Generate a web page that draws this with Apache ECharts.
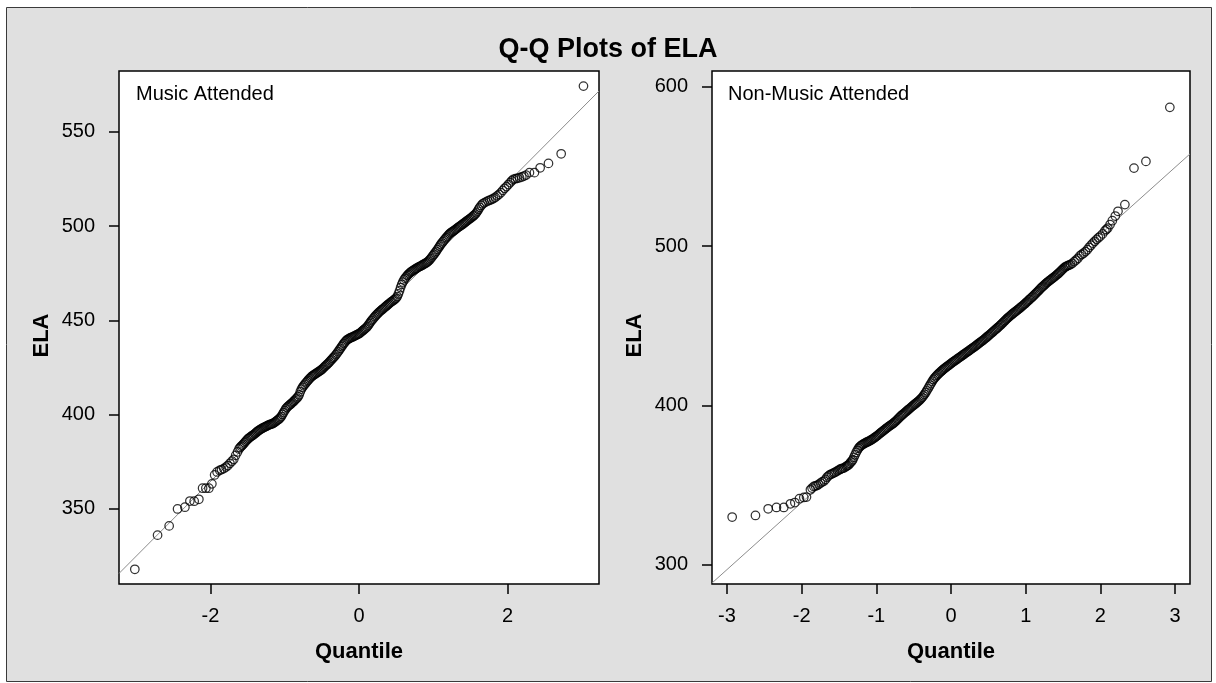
<!DOCTYPE html>
<html>
<head>
<meta charset="utf-8">
<script src="https://cdn.jsdelivr.net/npm/echarts@6/dist/echarts.min.js"></script>
<style>
html,body{margin:0;padding:0;background:#fff;}
#chart{width:1216px;height:683px;}
</style>
</head>
<body>
<div id="chart"></div>
<script>
// ---- Data ----
const chartTitle = 'Q-Q Plots of ELA';
const panelNames = ['Music Attended', 'Non-Music Attended'];
const xAxisName = 'Quantile';
const yAxisName = 'ELA';

// [normal quantile, ELA score]
const musicPoints = [
[-3.017,318.0],[-2.711,336.1],[-2.555,341.0],[-2.442,350.0],[-2.343,350.9],[-2.276,354.2],[-2.218,354.1],[-2.155,355.1],
[-2.105,361.0],[-2.061,361.0],[-2.020,361.0],[-1.980,363.3],[-1.943,368.0],[-1.910,369.6],[-1.875,370.5],[-1.850,370.9],
[-1.820,371.4],[-1.790,372.2],[-1.765,373.0],[-1.737,374.2],[-1.710,375.3],[-1.685,376.3],[-1.66,378.4],[-1.635,380.2],
[-1.615,381.8],[-1.60,382.6],[-1.585,383.2],[-1.57,383.8],[-1.555,384.4],[-1.54,385.1],[-1.525,385.8],[-1.51,386.5],
[-1.495,387.1],[-1.48,387.6],[-1.465,388.1],[-1.45,388.5],[-1.435,388.9],[-1.42,389.3],[-1.405,389.8],[-1.39,390.3],
[-1.375,390.8],[-1.36,391.3],[-1.345,391.7],[-1.33,392.1],[-1.315,392.5],[-1.30,392.8],[-1.285,393.1],[-1.27,393.4],
[-1.255,393.7],[-1.24,394.0],[-1.225,394.3],[-1.21,394.6],[-1.195,394.8],[-1.18,395.0],[-1.165,395.2],[-1.15,395.5],
[-1.135,395.9],[-1.12,396.3],[-1.105,396.8],[-1.09,397.2],[-1.075,397.7],[-1.06,398.3],[-1.045,399.0],[-1.03,400.1],
[-1.015,401.1],[-1.00,402.1],[-0.985,403.1],[-0.97,403.8],[-0.955,404.4],[-0.94,404.9],[-0.925,405.4],[-0.91,405.9],
[-0.895,406.5],[-0.88,407.0],[-0.865,407.6],[-0.85,408.2],[-0.835,408.8],[-0.82,409.5],[-0.805,410.5],[-0.79,412.1],
[-0.775,413.5],[-0.76,414.5],[-0.745,415.3],[-0.73,416.1],[-0.715,416.8],[-0.70,417.5],[-0.685,418.2],[-0.67,418.9],
[-0.655,419.5],[-0.64,420.1],[-0.625,420.6],[-0.61,421.0],[-0.595,421.4],[-0.58,421.8],[-0.565,422.2],[-0.55,422.6],
[-0.535,423.0],[-0.52,423.4],[-0.505,423.8],[-0.49,424.3],[-0.475,424.9],[-0.46,425.5],[-0.445,426.1],[-0.43,426.6],
[-0.415,427.2],[-0.40,427.8],[-0.385,428.5],[-0.37,429.1],[-0.355,429.8],[-0.34,430.4],[-0.325,431.0],[-0.31,431.8],
[-0.295,432.6],[-0.28,433.4],[-0.265,434.3],[-0.25,435.1],[-0.235,436.0],[-0.22,436.8],[-0.205,437.7],[-0.19,438.4],
[-0.175,439.1],[-0.16,439.7],[-0.145,440.1],[-0.13,440.4],[-0.115,440.7],[-0.10,441.0],[-0.085,441.2],[-0.07,441.5],
[-0.055,441.8],[-0.04,442.1],[-0.025,442.4],[-0.01,442.7],[0.005,443.0],[0.02,443.5],[0.035,444.0],[0.05,444.5],
[0.065,445.0],[0.08,445.5],[0.095,446.0],[0.11,446.6],[0.125,447.4],[0.14,448.2],[0.155,449.1],[0.17,449.9],
[0.185,450.6],[0.20,451.3],[0.215,452.0],[0.23,452.7],[0.245,453.3],[0.26,453.9],[0.275,454.5],[0.29,455.0],
[0.305,455.5],[0.32,456.0],[0.335,456.5],[0.35,457.0],[0.365,457.5],[0.38,458.0],[0.395,458.5],[0.41,459.0],
[0.425,459.5],[0.44,459.9],[0.455,460.3],[0.47,460.8],[0.485,461.3],[0.50,461.8],[0.515,462.6],[0.53,464.0],
[0.545,465.6],[0.56,467.4],[0.575,469.0],[0.59,470.3],[0.605,471.4],[0.62,472.3],[0.635,473.0],[0.65,473.8],
[0.665,474.4],[0.68,475.0],[0.695,475.5],[0.71,475.9],[0.725,476.3],[0.74,476.7],[0.755,477.1],[0.77,477.5],
[0.785,477.8],[0.80,478.2],[0.815,478.5],[0.83,478.8],[0.845,479.1],[0.86,479.5],[0.875,479.8],[0.89,480.1],
[0.905,480.5],[0.92,480.9],[0.935,481.4],[0.95,482.0],[0.965,482.7],[0.98,483.5],[0.995,484.3],[1.01,485.0],
[1.025,485.8],[1.04,486.6],[1.055,487.5],[1.07,488.4],[1.085,489.3],[1.10,490.2],[1.115,491.0],[1.13,491.7],
[1.145,492.5],[1.16,493.2],[1.175,493.9],[1.19,494.6],[1.205,495.3],[1.22,495.9],[1.235,496.4],[1.25,496.8],
[1.265,497.2],[1.28,497.6],[1.295,498.1],[1.31,498.5],[1.325,499.0],[1.34,499.4],[1.355,499.8],[1.37,500.2],
[1.385,500.7],[1.40,501.1],[1.415,501.6],[1.43,502.0],[1.445,502.5],[1.46,502.9],[1.475,503.4],[1.49,503.8],
[1.505,504.2],[1.52,504.7],[1.535,505.2],[1.55,505.7],[1.565,506.3],[1.58,507.0],[1.595,507.9],[1.61,508.9],
[1.625,509.9],[1.645,510.9],[1.665,511.8],[1.685,512.3],[1.71,512.8],[1.735,513.3],[1.76,513.7],[1.785,514.1],
[1.81,514.6],[1.835,515.2],[1.86,516.0],[1.885,516.8],[1.91,517.7],[1.935,518.9],[1.96,520.0],
[1.985,520.9],[2.010,522.0],[2.034,523.0],[2.056,524.0],[2.078,524.8],[2.105,525.1],[2.132,525.3],[2.160,525.6],
[2.191,526.0],[2.220,526.5],[2.249,527.0],[2.294,528.3],[2.361,528.3],[2.438,530.9],[2.550,533.2],[2.721,538.3],
[3.021,574.2]
];

const nonMusicPoints = [
[-2.930,330.0],[-2.618,331.0],[-2.448,335.2],[-2.337,336.0],[-2.239,336.0],[-2.150,338.3],[-2.091,339.1],[-2.029,341.5],
[-1.971,342.3],[-1.935,342.5],[-1.882,347.1],[-1.860,348.2],[-1.837,349.2],[-1.815,349.5],[-1.793,349.8],[-1.770,350.5],
[-1.748,351.3],[-1.725,352.0],[-1.700,352.6],[-1.680,353.6],[-1.660,355.0],[-1.640,355.8],[-1.620,356.6],[-1.600,357.0],
[-1.580,357.4],[-1.560,357.9],[-1.540,358.4],[-1.520,359.0],[-1.500,359.5],[-1.485,360.0],[-1.470,360.2],[-1.455,360.5],
[-1.435,360.7],[-1.418,361.3],[-1.400,361.8],[-1.385,362.3],[-1.369,362.8],[-1.355,363.6],[-1.340,364.5],[-1.325,365.2],
[-1.315,366.0],[-1.30,367.5],[-1.285,369.0],[-1.27,370.5],[-1.255,371.8],[-1.24,373.0],[-1.225,373.9],[-1.21,374.6],
[-1.195,375.1],[-1.18,375.6],[-1.165,376.0],[-1.15,376.4],[-1.135,376.8],[-1.12,377.1],[-1.105,377.4],[-1.09,377.8],
[-1.075,378.2],[-1.06,378.6],[-1.045,379.1],[-1.03,379.6],[-1.015,380.1],[-1.00,380.6],[-0.985,381.1],[-0.97,381.7],
[-0.955,382.3],[-0.94,382.9],[-0.925,383.4],[-0.91,384.0],[-0.895,384.5],[-0.88,385.1],[-0.865,385.7],[-0.85,386.2],
[-0.835,386.7],[-0.82,387.2],[-0.805,387.7],[-0.79,388.2],[-0.775,388.7],[-0.76,389.3],[-0.745,389.9],[-0.73,390.6],
[-0.715,391.3],[-0.70,392.0],[-0.685,392.7],[-0.67,393.4],[-0.655,394.0],[-0.64,394.6],[-0.625,395.2],[-0.61,395.8],
[-0.595,396.4],[-0.58,397.0],[-0.565,397.6],[-0.55,398.2],[-0.535,398.8],[-0.52,399.4],[-0.505,400.0],[-0.49,400.6],
[-0.475,401.1],[-0.46,401.7],[-0.445,402.3],[-0.43,402.9],[-0.415,403.6],[-0.40,404.3],[-0.385,405.1],[-0.37,406.0],
[-0.355,407.0],[-0.34,408.0],[-0.325,409.2],[-0.31,410.4],[-0.295,411.6],[-0.28,412.8],[-0.265,414.0],[-0.25,415.2],
[-0.235,416.3],[-0.22,417.2],[-0.205,418.0],[-0.19,418.8],[-0.175,419.5],[-0.16,420.2],[-0.145,420.9],[-0.13,421.5],
[-0.115,422.1],[-0.10,422.7],[-0.085,423.3],[-0.07,423.8],[-0.055,424.4],[-0.04,424.9],[-0.025,425.4],[-0.01,425.9],
[0.005,426.5],[0.02,427.0],[0.035,427.5],[0.05,428.0],[0.065,428.5],[0.08,429.0],[0.095,429.5],[0.11,430.0],
[0.125,430.5],[0.14,431.0],[0.155,431.5],[0.17,432.0],[0.185,432.5],[0.20,433.0],[0.215,433.5],[0.23,434.0],
[0.245,434.5],[0.26,435.0],[0.275,435.5],[0.29,436.0],[0.305,436.5],[0.32,437.0],[0.335,437.5],[0.35,438.1],
[0.365,438.7],[0.38,439.2],[0.395,439.7],[0.41,440.2],[0.425,440.7],[0.44,441.3],[0.455,441.9],[0.47,442.5],
[0.485,443.1],[0.50,443.7],[0.515,444.3],[0.53,444.9],[0.545,445.5],[0.56,446.1],[0.575,446.8],[0.59,447.4],
[0.605,448.0],[0.62,448.6],[0.635,449.2],[0.65,449.9],[0.665,450.5],[0.68,451.2],[0.695,451.9],[0.71,452.6],
[0.725,453.3],[0.74,454.0],[0.755,454.7],[0.77,455.3],[0.785,455.9],[0.80,456.5],[0.815,457.1],[0.83,457.7],
[0.845,458.2],[0.86,458.8],[0.875,459.3],[0.89,459.9],[0.905,460.4],[0.92,461.0],[0.935,461.6],[0.95,462.2],
[0.965,462.8],[0.98,463.4],[0.995,464.0],[1.01,464.7],[1.025,465.3],[1.04,466.0],[1.055,466.6],[1.07,467.3],
[1.085,467.9],[1.10,468.6],[1.115,469.3],[1.13,470.0],[1.145,470.7],[1.16,471.4],[1.175,472.1],[1.19,472.9],
[1.205,473.6],[1.22,474.3],[1.235,474.9],[1.25,475.6],[1.265,476.2],[1.28,476.9],[1.295,477.4],[1.31,478.0],
[1.325,478.5],[1.34,479.1],[1.355,479.6],[1.37,480.2],[1.385,480.7],[1.40,481.3],[1.415,481.9],[1.43,482.5],
[1.445,483.1],[1.46,483.8],[1.475,484.5],[1.49,485.2],[1.505,485.9],[1.52,486.6],[1.535,487.0],[1.55,487.4],
[1.565,487.7],[1.58,488.0],[1.60,488.4],[1.625,489.2],[1.65,490.2],[1.675,491.2],[1.70,492.3],[1.725,493.8],
[1.75,494.7],[1.775,495.5],[1.80,496.5],[1.825,497.7],[1.85,499.2],[1.875,500.5],[1.90,501.8],[1.925,503.0],
[1.95,504.2],[1.975,505.2],[2.00,506.2],[2.03,507.6],[2.06,509.5],[2.08,510.4],[2.10,511.3],[2.13,513.5],
[2.16,515.9],[2.20,518.8],[2.236,521.8],[2.328,526.0],[2.450,548.9],[2.610,553.1],[2.930,587.0]
];

// fitted reference lines: [quantile, ELA] end points
const musicRefLine = [[-3.23, 315.8], [3.23, 571.6]];
const nonMusicRefLine = [[-3.2, 288.6], [3.2, 557.8]];

// axis ranges and ticks
const musicXRange = [-3.23, 3.23];
const musicYRange = [310.2, 582.2];
const nonMusicXRange = [-3.2, 3.2];
const nonMusicYRange = [288, 609.8];
const musicXTicks = [-2, 0, 2];
const musicYTicks = [350, 400, 450, 500, 550];
const nonMusicXTicks = [-3, -2, -1, 0, 1, 2, 3];
const nonMusicYTicks = [300, 400, 500, 600];

// ---- Chart ----
const FONT = '"Liberation Sans", Arial, Helvetica, sans-serif';
const chart = echarts.init(document.getElementById('chart'), null, {renderer: 'canvas'});

function xAxisCfg(idx, range, ticks) {
  return {
    type: 'value', gridIndex: idx, min: range[0], max: range[1],
    axisLine: {show: false, onZero: false},
    splitLine: {show: false},
    axisTick: {show: true, customValues: ticks, length: 10, lineStyle: {color: '#000', width: 1.5}},
    axisLabel: {customValues: ticks, color: '#000', fontSize: 20, fontFamily: FONT, margin: 22},
    name: xAxisName, nameLocation: 'middle', nameGap: 57,
    nameTextStyle: {color: '#000', fontSize: 22, fontWeight: 'bold', fontFamily: FONT}
  };
}
function yAxisCfg(idx, range, ticks) {
  return {
    type: 'value', gridIndex: idx, min: range[0], max: range[1],
    axisLine: {show: false, onZero: false},
    splitLine: {show: false},
    axisTick: {show: true, customValues: ticks, length: 10, lineStyle: {color: '#000', width: 1.5}},
    axisLabel: {customValues: ticks, color: '#000', fontSize: 20, fontFamily: FONT, margin: 24},
    name: yAxisName, nameLocation: 'middle', nameGap: 66,
    nameTextStyle: {color: '#000', fontSize: 22, fontWeight: 'bold', fontFamily: FONT, padding: [0, 16, 0, 0]}
  };
}
function pointSeries(idx, data) {
  return {
    type: 'scatter', xAxisIndex: idx, yAxisIndex: idx, data: data,
    symbol: 'circle', symbolSize: 8.5, silent: true,
    itemStyle: {color: 'rgba(0,0,0,0)', borderColor: '#000', borderWidth: 1.25},
    z: 3
  };
}
function lineSeries(idx, data) {
  return {
    type: 'line', xAxisIndex: idx, yAxisIndex: idx, data: data,
    showSymbol: false, symbol: 'none', silent: true, clip: true,
    lineStyle: {color: '#8c8c8c', width: 1}, z: 2
  };
}

const option = {
  animation: false,
  backgroundColor: '#ffffff',
  title: {
    text: chartTitle, left: 'center', top: 31,
    textStyle: {color: '#000', fontSize: 27, fontWeight: 'bold', fontFamily: FONT}
  },
  graphic: [
    {type: 'rect', z: -10, silent: true,
     shape: {x: 6.5, y: 7.5, width: 1205, height: 674},
     style: {fill: '#e0e0e0', stroke: '#3a3a3a', lineWidth: 1}},
    {type: 'text', left: 136, top: 84, z: 10, silent: true,
     style: {text: panelNames[0], fill: '#000', font: '20px ' + FONT}},
    {type: 'text', left: 728, top: 84, z: 10, silent: true,
     style: {text: panelNames[1], fill: '#000', font: '20px ' + FONT}}
  ],
  grid: [
    {left: 119, top: 71, width: 480, height: 513, show: true, backgroundColor: '#fff', borderColor: '#000', borderWidth: 1.5, containLabel: false},
    {left: 712, top: 71, width: 478, height: 513, show: true, backgroundColor: '#fff', borderColor: '#000', borderWidth: 1.5, containLabel: false}
  ],
  xAxis: [xAxisCfg(0, musicXRange, musicXTicks), xAxisCfg(1, nonMusicXRange, nonMusicXTicks)],
  yAxis: [yAxisCfg(0, musicYRange, musicYTicks), yAxisCfg(1, nonMusicYRange, nonMusicYTicks)],
  series: [
    lineSeries(0, musicRefLine),
    pointSeries(0, musicPoints),
    lineSeries(1, nonMusicRefLine),
    pointSeries(1, nonMusicPoints)
  ]
};
chart.setOption(option);
</script>
</body>
</html>
